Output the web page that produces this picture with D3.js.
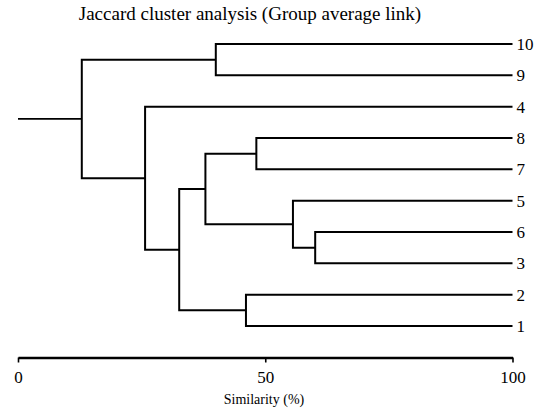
<!DOCTYPE html>
<html>
<head>
<meta charset="utf-8">
<script src="https://cdn.jsdelivr.net/npm/d3@7"></script>
<style>
  body { margin: 0; background: #fff; }
  svg text { font-family: "Liberation Serif", "Times New Roman", serif !important; }
</style>
</head>
<body>
<svg id="chart" width="539" height="419"></svg>
<script>
// leaf order top to bottom
var leaves = ["10", "9", "4", "8", "7", "5", "6", "3", "2", "1"];

// linkage table: each merge joins two ids (leaf or "m"+index) at a similarity (%)
var mergeLeft  = ["6",  "5",  "8",  "m2", "2",  "m3", "4",  "10", "m7"];
var mergeRight = ["3",  "m0", "7",  "m1", "1",  "m4", "m5", "9",  "m6"];
var mergeSim   = [60.1, 55.6, 48.2, 37.9, 46.1, 32.6, 25.7, 40.0, 12.9];

var axisTicks = [0, 50, 100];
var title = "Jaccard cluster analysis (Group average link)";
var xTitle = "Similarity (%)";

var svg = d3.select("#chart");

var x = d3.scaleLinear().domain([0, 100]).range([18, 512.5]);
var y = d3.scalePoint().domain(leaves).range([44, 326]);

// positions of every node, leaves first
var nodes = {};
leaves.forEach(function(d) {
    nodes[d] = { x: x(100), y: y(d) };
});

var g = svg.append("g")
    .attr("fill", "none")
    .attr("stroke", "#000")
    .attr("stroke-width", 2);

for (var i = 0; i < mergeSim.length; i++) {
    var a = nodes[mergeLeft[i]], b = nodes[mergeRight[i]];
    var mx = x(mergeSim[i]);
    nodes["m" + i] = { x: mx, y: (a.y + b.y) / 2 };
    g.append("path")
        .attr("d", "M" + a.x + "," + a.y + "H" + mx + "V" + b.y + "H" + b.x);
}

// stub for the root
var root = nodes["m" + (mergeSim.length - 1)];
g.append("path")
    .attr("stroke-width", 1.6)
    .attr("d", "M" + x(0) + "," + root.y + "H" + root.x);

// leaf labels
svg.append("g").selectAll("text")
    .data(leaves)
    .join("text")
    .attr("x", x(100) + 4)
    .attr("y", function(d) { return y(d); })
    .attr("dy", "0.36em")
    .attr("font-size", 17)
    .text(function(d) { return d; });

// axis
var axis = svg.append("g")
    .attr("transform", "translate(0,357.5)")
    .call(d3.axisBottom(x).tickValues(axisTicks).tickSize(5).tickSizeOuter(0).tickPadding(8));
axis.select(".domain").attr("stroke-width", 2.6);
axis.selectAll(".tick line").attr("stroke-width", 1.6);
axis.selectAll(".tick text")
    .attr("font-size", 17)
    .attr("fill", "#000");

svg.append("text")
    .attr("x", 250)
    .attr("y", 20)
    .attr("text-anchor", "middle")
    .attr("font-size", 19)
    .text(title);

svg.append("text")
    .attr("x", 264)
    .attr("y", 404)
    .attr("text-anchor", "middle")
    .attr("font-size", 14)
    .text(xTitle);
</script>
</body>
</html>
